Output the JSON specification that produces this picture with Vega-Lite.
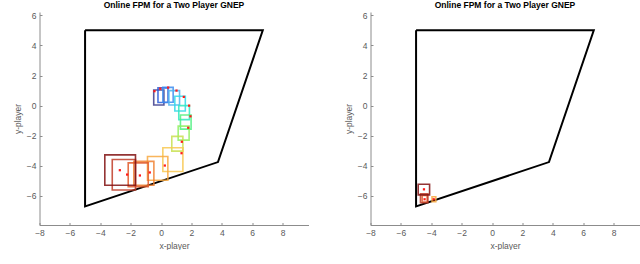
{
  "$schema": "https://vega.github.io/schema/vega-lite/v6.json",
  "padding": {"left": 12.5, "top": 0, "right": 0, "bottom": 0},
  "spacing": 35,
  "background": "white",
  "config": {
    "view": {"stroke": null},
    "font": "Liberation Sans",
    "title": {"fontSize": 8.5, "fontWeight": "bold", "color": "#000", "offset": 2, "font": "Liberation Sans"},
    "axis": {
      "grid": false, "domainColor": "#8c8c8c", "tickColor": "#8c8c8c", "tickSize": -2.5, "labelPadding": 6,
      "labelOverlap": false, "labelFlush": false, "tickCount": 30, "format": "d",
      "labelFont": "Liberation Sans", "labelFontSize": 8.5, "labelColor": "#5a5a5a",
      "titleFont": "Liberation Sans", "titleFontSize": 8.5, "titleFontWeight": "normal", "titleColor": "#5a5a5a"
    }
  },
  "datasets": {
    "poly": [
      {"i": 1, "x": -5, "y": 5}, {"i": 2, "x": 6.7, "y": 5}, {"i": 3, "x": 3.75, "y": -3.75},
      {"i": 4, "x": -5, "y": -6.7}, {"i": 5, "x": -5, "y": 5}
    ],
    "boxesL": [
      {"k": 1, "x1": -0.48, "x2": 0.19, "y1": 0.04, "y2": 1.04},
      {"k": 2, "x1": -0.2, "x2": 0.46, "y1": 0.21, "y2": 1.18},
      {"k": 3, "x1": 0.12, "x2": 0.8, "y1": 0.22, "y2": 1.21},
      {"k": 4, "x1": 0.52, "x2": 1.22, "y1": 0.04, "y2": 1.0},
      {"k": 5, "x1": 0.91, "x2": 1.6, "y1": -0.36, "y2": 0.62},
      {"k": 6, "x1": 1.17, "x2": 1.87, "y1": -0.93, "y2": 0.0},
      {"k": 7, "x1": 1.28, "x2": 1.98, "y1": -1.56, "y2": -0.62},
      {"k": 8, "x1": 1.13, "x2": 1.85, "y1": -2.29, "y2": -1.36},
      {"k": 9, "x1": 0.71, "x2": 1.44, "y1": -3.02, "y2": -2.04},
      {"k": 10, "x1": 0.12, "x2": 1.44, "y1": -4.38, "y2": -2.8},
      {"k": 11, "x1": -0.89, "x2": 0.45, "y1": -4.96, "y2": -3.38},
      {"k": 12, "x1": -1.79, "x2": -0.47, "y1": -5.29, "y2": -3.7},
      {"k": 13, "x1": -2.16, "x2": -0.84, "y1": -5.38, "y2": -3.8},
      {"k": 14, "x1": -3.21, "x2": -1.68, "y1": -5.6, "y2": -3.58},
      {"k": 15, "x1": -3.7, "x2": -1.68, "y1": -5.29, "y2": -3.27}
    ],
    "dotsL": [
      {"x": -0.43, "y": 0.96}, {"x": -0.05, "y": 1.13}, {"x": 0.47, "y": 1.2}, {"x": 1.02, "y": 1.0},
      {"x": 1.5, "y": 0.58}, {"x": 1.85, "y": 0.0}, {"x": 1.94, "y": -0.71}, {"x": 1.79, "y": -1.47},
      {"x": 1.37, "y": -2.4}, {"x": 1.35, "y": -3.16}, {"x": 0.25, "y": -3.98}, {"x": -0.74, "y": -4.44},
      {"x": -1.39, "y": -4.64}, {"x": -2.23, "y": -4.58}, {"x": -2.71, "y": -4.29}
    ],
    "boxesR": [
      {"k": 11, "x1": -3.95, "x2": -3.7, "y1": -6.38, "y2": -6.05},
      {"k": 13, "x1": -4.6, "x2": -4.27, "y1": -6.4, "y2": -5.96},
      {"k": 14, "x1": -4.71, "x2": -4.22, "y1": -6.45, "y2": -5.85},
      {"k": 15, "x1": -4.86, "x2": -4.11, "y1": -5.93, "y2": -5.22}
    ],
    "dotsR": [
      {"x": -4.48, "y": -5.56}, {"x": -4.44, "y": -6.22}, {"x": -3.84, "y": -6.22}
    ]
  },
  "hconcat": [
    {
      "title": "Online FPM for a Two Player GNEP",
      "width": 269, "height": 213,
      "layer": [
        {
          "data": {"name": "poly"},
          "mark": {"type": "line", "color": "#000", "strokeWidth": 2},
          "encoding": {
            "x": {"field": "x", "type": "quantitative", "scale": {"domain": [-8, 9.71], "nice": false, "zero": false},
                  "axis": {"values": [-8, -6, -4, -2, 0, 2, 4, 6, 8], "title": "x-player", "labelOverlap": false, "tickCount": 30, "format": "d"}},
            "y": {"field": "y", "type": "quantitative", "scale": {"domain": [-7.93, 6.22], "nice": false, "zero": false},
                  "axis": {"values": [-6, -4, -2, 0, 2, 4, 6], "title": "y-player", "labelOverlap": false, "tickCount": 30, "format": "d"}},
            "order": {"field": "i", "type": "quantitative"}
          }
        },
        {
          "data": {"name": "boxesL"},
          "mark": {"type": "rect", "filled": false, "strokeWidth": 1.6, "strokeOpacity": 0.85},
          "encoding": {
            "x": {"field": "x1", "type": "quantitative"},
            "x2": {"field": "x2"},
            "y": {"field": "y1", "type": "quantitative"},
            "y2": {"field": "y2"},
            "stroke": {"field": "k", "type": "ordinal", "legend": null,
              "scale": {"domain": [1,2,3,4,5,6,7,8,9,10,11,12,13,14,15],
                "range": ["#3c3c8c","#2a5ad8","#3c8cf0","#4cb4f0","#30d8e8","#30e8c0","#50f080","#90f060","#c8e050","#f8c850","#f8a840","#f08030","#e05828","#c03c28","#801010"]}}
          }
        },
        {
          "data": {"name": "dotsL"},
          "mark": {"type": "point", "shape": "square", "filled": true, "color": "#ff1a1a", "size": 5, "opacity": 1},
          "encoding": {
            "x": {"field": "x", "type": "quantitative"},
            "y": {"field": "y", "type": "quantitative"}
          }
        }
      ]
    },
    {
      "title": "Online FPM for a Two Player GNEP",
      "width": 269, "height": 213,
      "layer": [
        {
          "data": {"name": "poly"},
          "mark": {"type": "line", "color": "#000", "strokeWidth": 2},
          "encoding": {
            "x": {"field": "x", "type": "quantitative", "scale": {"domain": [-8, 9.71], "nice": false, "zero": false},
                  "axis": {"values": [-8, -6, -4, -2, 0, 2, 4, 6, 8], "title": "x-player", "labelOverlap": false, "tickCount": 30, "format": "d"}},
            "y": {"field": "y", "type": "quantitative", "scale": {"domain": [-7.93, 6.22], "nice": false, "zero": false},
                  "axis": {"values": [-6, -4, -2, 0, 2, 4, 6], "title": "y-player", "labelOverlap": false, "tickCount": 30, "format": "d"}},
            "order": {"field": "i", "type": "quantitative"}
          }
        },
        {
          "data": {"name": "boxesR"},
          "mark": {"type": "rect", "filled": false, "strokeWidth": 1.6, "strokeOpacity": 0.85},
          "encoding": {
            "x": {"field": "x1", "type": "quantitative"},
            "x2": {"field": "x2"},
            "y": {"field": "y1", "type": "quantitative"},
            "y2": {"field": "y2"},
            "stroke": {"field": "k", "type": "ordinal", "legend": null,
              "scale": {"domain": [11, 13, 14, 15],
                "range": ["#f8a040", "#e04020", "#c82020", "#801010"]}}
          }
        },
        {
          "data": {"name": "dotsR"},
          "mark": {"type": "point", "shape": "square", "filled": true, "color": "#ff1a1a", "size": 5, "opacity": 1},
          "encoding": {
            "x": {"field": "x", "type": "quantitative"},
            "y": {"field": "y", "type": "quantitative"}
          }
        }
      ]
    }
  ]
}
